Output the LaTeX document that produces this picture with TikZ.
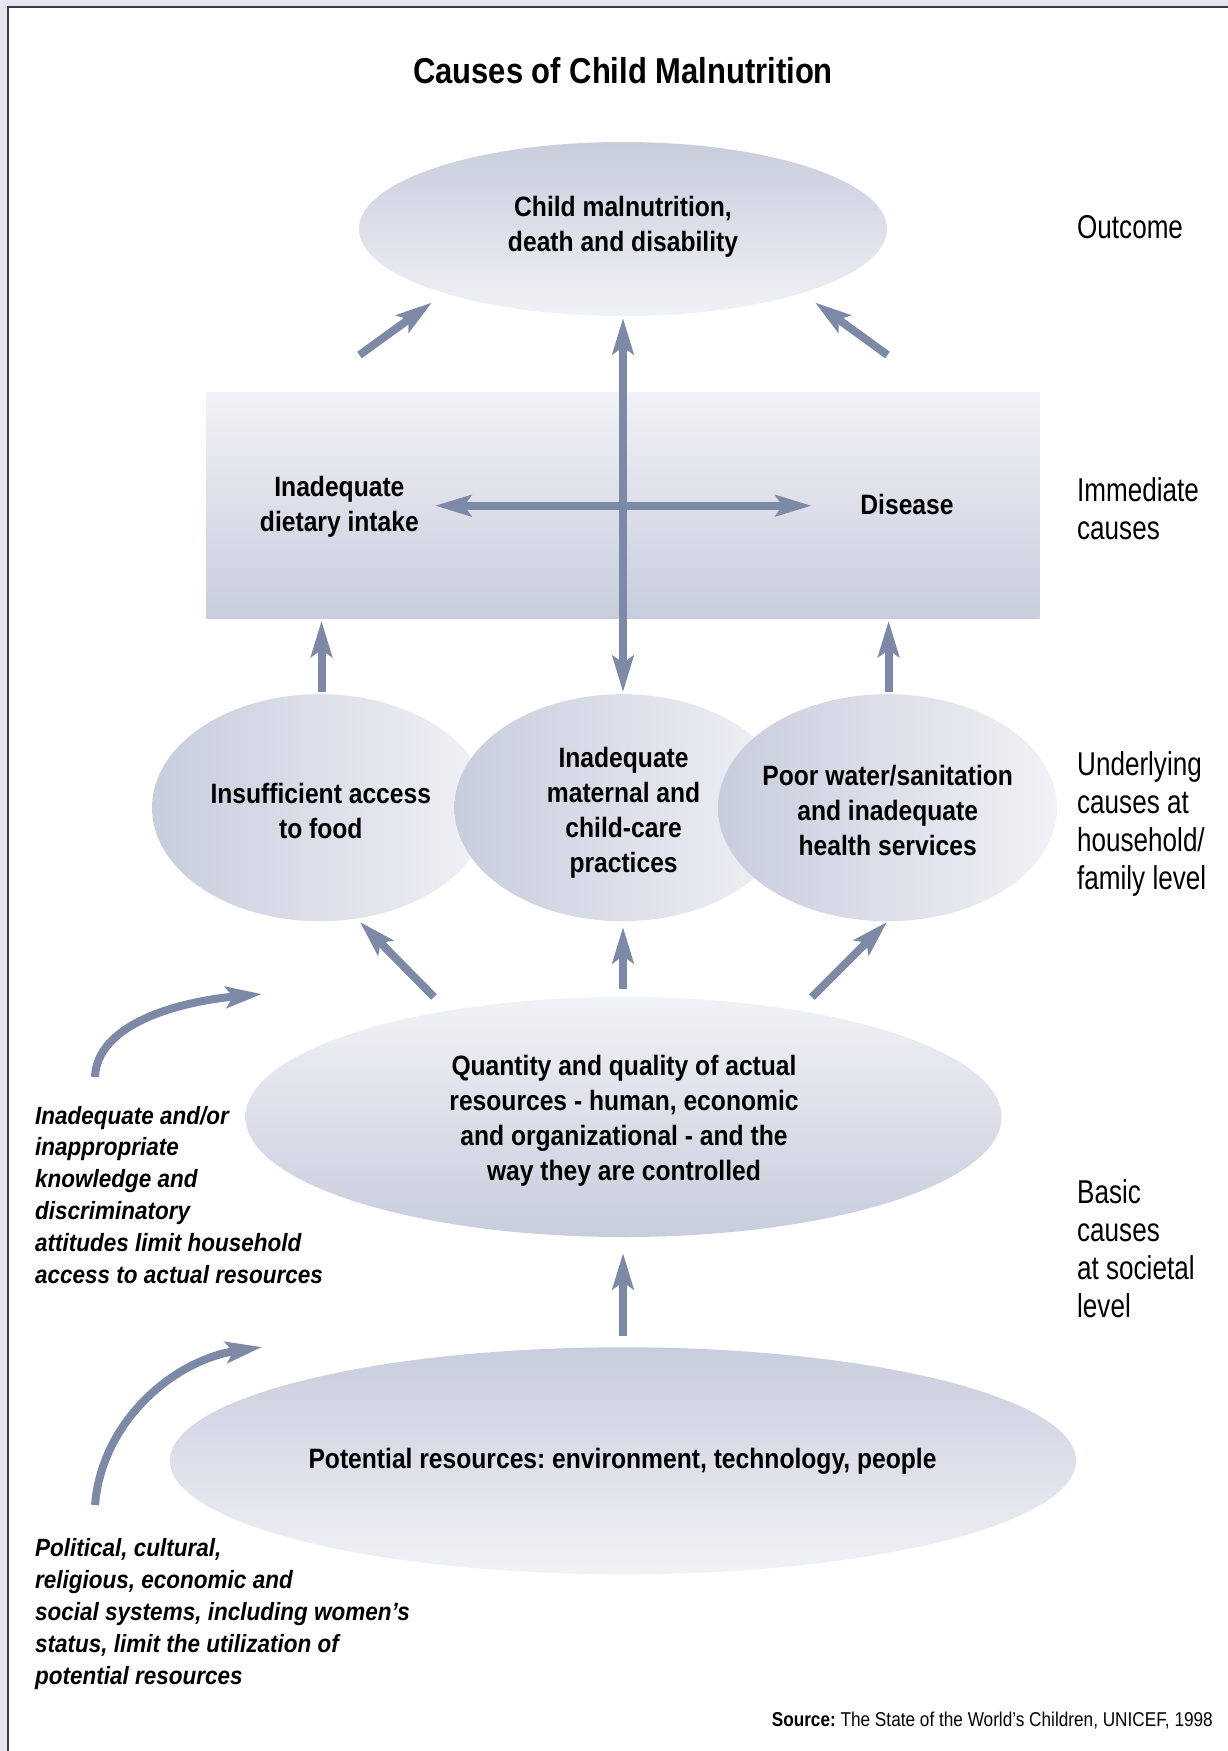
\documentclass[tikz,border=0pt]{standalone}
\usepackage{fontspec}
\setmainfont[FakeStretch=0.88]{Liberation Sans}
\newfontfamily\titlefont[FakeStretch=0.86]{Liberation Sans}
\newfontfamily\lblfont[FakeStretch=0.79]{Liberation Sans}
\newfontfamily\sidefont[FakeStretch=0.9]{Liberation Sans}
\usetikzlibrary{shapes.geometric,arrows.meta}
\definecolor{arrowc}{RGB}{124,138,168}
\definecolor{shdark}{RGB}{200,205,221}
\definecolor{shlight}{RGB}{241,242,246}
\definecolor{bgout}{RGB}{229,230,239}
\definecolor{framec}{RGB}{60,60,64}
\begin{document}
\frenchspacing
\begin{tikzpicture}[x=1pt,y=-1pt,
  tip/.tip={Stealth[length=36pt,width=21pt,inset=7pt]},
  arr/.style={draw=arrowc, line width=8pt, -tip},
  darr/.style={draw=arrowc, line width=8pt, tip-tip},
  blob/.style={ellipse, draw=none, inner sep=0pt},
  ntext/.style={align=center, font=\fontsize{28}{35}\selectfont\bfseries, inner sep=0pt, anchor=base},
  lbl/.style={align=left, font=\lblfont\fontsize{33}{38}\selectfont, inner sep=0pt, anchor=base west},
  side/.style={align=left, font=\sidefont\fontsize{25}{31.8}\selectfont\bfseries\itshape, inner sep=0pt, anchor=base west}]
\useasboundingbox (0,0) rectangle (1228,1751);
\fill[bgout] (0,0) rectangle (1228,1751);
\fill[white] (8,7) rectangle (1228,1751);
\draw[framec, line width=1.5pt] (8,1751) -- (8,7) -- (1228,7);

% title
\node[font=\titlefont\fontsize{36}{40}\selectfont\bfseries, inner sep=0pt, anchor=base] (title) at (623,83) {Causes of Child Malnutrition};

% shapes
\node[blob, minimum width=528pt, minimum height=174pt, top color=shdark, bottom color=shlight] (outcome) at (623,229) {};
\node[rectangle, draw=none, minimum width=833pt, minimum height=226.5pt, top color=shlight, bottom color=shdark] (immediate) at (623,505.25) {};
\node[blob, minimum width=336pt, minimum height=227pt, left color=shdark, right color=shlight] (food) at (320,807.7) {};
\node[blob, minimum width=336pt, minimum height=227pt, left color=shdark, right color=shlight] (care) at (622.4,807.7) {};
\node[blob, minimum width=339pt, minimum height=227pt, left color=shdark, right color=shlight] (water) at (887.5,807.7) {};
\node[blob, minimum width=756pt, minimum height=240pt, top color=shlight, bottom color=shdark] (actual) at (623.5,1117) {};
\node[blob, minimum width=906pt, minimum height=227pt, top color=shdark, bottom color=shlight] (potential) at (623,1460.8) {};

% arrow end points
\coordinate (a1s) at (359.5,355); \coordinate (a1e) at (432,302.5);
\coordinate (a2s) at (887.5,355); \coordinate (a2e) at (815,302.5);
\coordinate (v1) at (623,318); \coordinate (v2) at (623,692);
\coordinate (h1) at (435,505.7); \coordinate (h2) at (811.6,505.7);
\coordinate (b1s) at (321.5,692); \coordinate (b1e) at (321.5,620.7);
\coordinate (b2s) at (888.6,692); \coordinate (b2e) at (888.6,620.7);
\coordinate (c1s) at (434,997); \coordinate (c1e) at (360,922);
\coordinate (c2s) at (623,989); \coordinate (c2e) at (623,927);
\coordinate (c3s) at (812,997); \coordinate (c3e) at (887,922);
\coordinate (d1s) at (623,1336); \coordinate (d1e) at (623,1253);
\coordinate (e1s) at (95,1077); \coordinate (e1e) at (262,994);
\coordinate (e2s) at (95,1505); \coordinate (e2e) at (262,1347);

% arrows
\draw[arr] (a1s) -- (a1e);
\draw[arr] (a2s) -- (a2e);
\draw[darr] (v1) -- (v2);
\draw[darr] (h1) -- (h2);
\draw[arr] (b1s) -- (b1e);
\draw[arr] (b2s) -- (b2e);
\draw[arr] (c1s) -- (c1e);
\draw[arr] (c2s) -- (c2e);
\draw[arr] (c3s) -- (c3e);
\draw[arr] (d1s) -- (d1e);
\draw[arr] (e1s) .. controls (97,1025) and (175,1002) .. (e1e);
\draw[arr] (e2s) .. controls (102,1420) and (175,1360) .. (e2e);

% node texts (anchor = baseline of last line)
\node[ntext] (outcomeT) at (623,251) {Child malnutrition,\\death and disability};
\node[ntext] (dietT) at (339.4,531) {Inadequate\\dietary intake};
\node[ntext] (diseaseT) at (907,514) {Disease};
\node[ntext] (foodT) at (320.8,838) {Insufficient access\\to food};
\node[ntext] (careT) at (623.6,872.5) {Inadequate\\maternal and\\child-care\\practices};
\node[ntext] (waterT) at (887.7,855) {Poor water/sanitation\\and inadequate\\health services};
\node[ntext] (actualT) at (624,1180) {Quantity and quality of actual\\resources - human, economic\\and organizational - and the\\way they are controlled};
\node[ntext] (potentialT) at (622.5,1468) {Potential resources: environment, technology, people};

% level labels
\node[lbl] (lOutcome) at (1077,238) {Outcome};
\node[lbl] (lImmediate) at (1077,539) {Immediate\\causes};
\node[lbl] (lUnderlying) at (1077,889) {Underlying\\causes at\\household/\\family level};
\node[lbl] (lBasic) at (1077,1317.5) {Basic\\causes\\at societal\\level};

% side notes
\node[side] (side1) at (35,1283) {Inadequate and/or\\inappropriate\\knowledge and\\discriminatory\\attitudes limit household\\access to actual resources};
\node[side] (side2) at (35,1684) {Political, cultural,\\religious, economic and\\social systems, including women’s\\status, limit the utilization of\\potential resources};

% source
\node[font=\titlefont\fontsize{20}{24}\selectfont, inner sep=0pt, anchor=base east] (source) at (1213,1726) {\textbf{Source:} The State of the World’s Children, UNICEF, 1998};
\end{tikzpicture}
\end{document}
